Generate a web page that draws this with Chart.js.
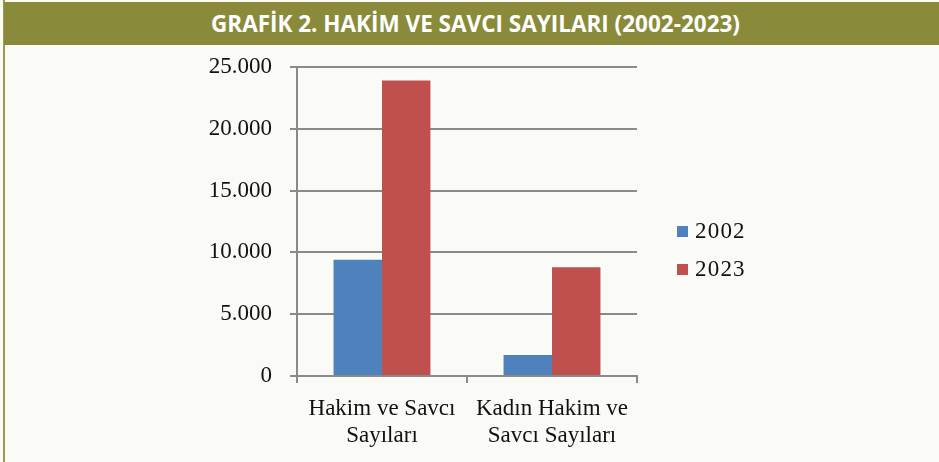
<!DOCTYPE html>
<html>
<head>
<meta charset="utf-8">
<script src="https://cdn.jsdelivr.net/npm/chart.js@4"></script>
<style>
    html, body { margin: 0; padding: 0; background: #fafaf6; }
    #page { position: relative; width: 939px; height: 462px; overflow: hidden; }
    #edge { position: absolute; left: 3px; top: 0; width: 2px; height: 462px; background: #9c9d4c; }
    #header {
        position: absolute; left: 4px; top: 2px; width: 935px; height: 43px;
        background: #8a8b3a; color: #fff; text-align: center;
        font-family: "Open Sans", sans-serif; font-weight: 700; font-size: 22.5px; line-height: 43px;
    }
    #header span { display: inline-block; margin-left: 8px; }
    #chart-container { position: absolute; left: 0; top: 45px; width: 939px; height: 417px; }
    #legend { position: absolute; left: 677px; top: 218px; margin: 0; padding: 0; list-style: none;
        font-family: "Liberation Serif", serif; font-size: 23px; color: #111; }
    #legend li { height: 38px; line-height: 26px; white-space: nowrap; letter-spacing: 1.2px; }
    #legend i { display: inline-block; width: 11px; height: 11px; margin-right: 7px; vertical-align: 1px; }
</style>
</head>
<body>
<div id="page">
    <div id="edge"></div>
    <div id="header"><span>GRAFİK 2. HAKİM VE SAVCI SAYILARI (2002-2023)</span></div>
    <div id="chart-container"></div>
    <ul id="legend"></ul>
</div>
<script>
var categories = [['Hakim ve Savcı', 'Sayıları'], ['Kadın Hakim ve', 'Savcı Sayıları']];
var series_labels = ['2002', '2023'];
var values_2002 = [9400, 1700];
var values_2023 = [23900, 8800];
var colors = ['#4f81bd', '#c0504d'];
var y_ticks = [0, 5000, 10000, 15000, 20000, 25000];

document.addEventListener('DOMContentLoaded', function(){
    var data = {
        labels: categories,
        datasets: [
            { label: series_labels[0], data: values_2002, backgroundColor: colors[0] },
            { label: series_labels[1], data: values_2023, backgroundColor: colors[1] }
        ]
    };

    var axisFont = { family: 'Liberation Serif', size: 23, lineHeight: 1.2 };
    var gridColor = '#8a8a8a';

    new Chart(makeCanvas('chart-container'), {
        type: 'bar',
        data: data,
        options: {
            responsive: false,
            animation: false,
            categoryPercentage: 0.57,
            barPercentage: 1,
            layout: { padding: { left: 0, right: 302, top: 22, bottom: 0 } },
            plugins: { legend: { display: false }, tooltip: { enabled: false } },
            scales: {
                x: {
                    grid: { drawOnChartArea: false, drawTicks: true, tickLength: 7, color: gridColor, lineWidth: 2 },
                    border: { display: true, color: gridColor, width: 2 },
                    ticks: { color: '#111', font: axisFont, padding: 12, maxRotation: 0 },
                    afterFit: function(scale){ scale.height = 86; }
                },
                y: {
                    min: y_ticks[0],
                    max: y_ticks[y_ticks.length - 1],
                    grid: { color: gridColor, lineWidth: 2, tickLength: 7 },
                    border: { display: true, color: gridColor, width: 2 },
                    ticks: {
                        stepSize: y_ticks[1] - y_ticks[0],
                        color: '#111',
                        font: axisFont,
                        padding: 18,
                        callback: function(v){ return v.toLocaleString('de-DE'); }
                    },
                    afterFit: function(scale){
                        scale.width = 297;
                        scale.paddingTop = 0;
                        scale.paddingBottom = 0;
                    }
                }
            }
        }
    });

    generateLegend('legend', data.datasets);
}, false);

function makeCanvas(id) {
    var container = document.getElementById(id);
    var canvas = document.createElement('canvas');
    container.innerHTML = '';
    canvas.width = container.offsetWidth;
    canvas.height = container.offsetHeight;
    container.appendChild(canvas);
    return canvas.getContext('2d');
}

function generateLegend(id, items) {
    var legend = document.getElementById(id);
    legend.innerHTML = items.map(function(item) {
        return '<li><i style="background:' + item.backgroundColor + '"></i>' + item.label + '</li>';
    }).join('');
}
</script>
</body>
</html>
